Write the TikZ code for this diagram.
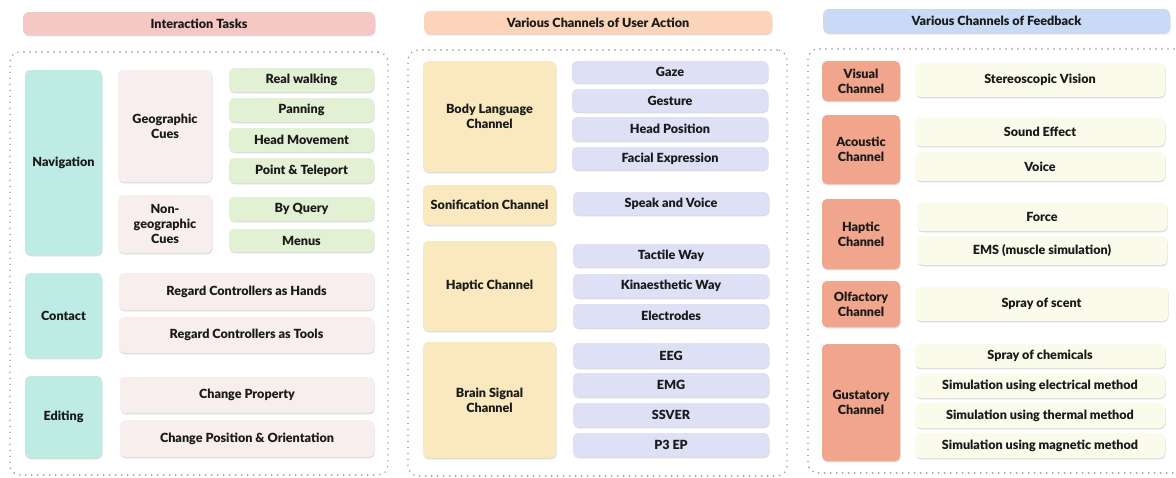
\documentclass[tikz,border=0pt]{standalone}
\usepackage{fontspec}
\setmainfont{Lato}[BoldFont={Lato Black}]
\usetikzlibrary{shadows}
\definecolor{hdrpink}{HTML}{F5C8C4}
\definecolor{hdrpeach}{HTML}{FCD4B9}
\definecolor{hdrblue}{HTML}{C8DAF5}
\definecolor{teal}{HTML}{BEEBE4}
\definecolor{lpink}{HTML}{F8EEEE}
\definecolor{lgreen}{HTML}{E2F0D4}
\definecolor{lyellow}{HTML}{FAE8BE}
\definecolor{lav}{HTML}{DEE0F6}
\definecolor{salmon}{HTML}{F0A58C}
\definecolor{cream}{HTML}{FAFBEB}
\definecolor{txt}{HTML}{1A1A1A}
\tikzset{
  base/.style={rounded corners=5pt, inner sep=0pt, align=center,
    font=\bfseries\fontsize{12.6}{15}\selectfont, text=txt,
    drop shadow={shadow xshift=0.5pt, shadow yshift=-1.3pt, opacity=0.3, fill=black!45}},
  hdr/.style={base, rounded corners=6pt},
  container/.style={draw=black!45, line width=1.6pt, dash pattern=on 0pt off 6pt,
    line cap=round, rounded corners=10pt, inner sep=0pt},
}
\newcommand{\bx}[7]{\node[#2, minimum width={(#5-#3)*1pt}, minimum height={(#6-#4)*1pt}]
  (#1) at ({(#3+#5)/2},{(#4+#6)/2}) {#7};}
\begin{document}
\begin{tikzpicture}[x=1pt,y=-1pt]
\useasboundingbox (0,0) rectangle (1176,477);
\fill[white] (0,0) rectangle (1176,477);
% headers
\bx{h1}{hdr,fill=hdrpink}{23}{12}{375}{35}{Interaction Tasks}
\bx{h2}{hdr,fill=hdrpeach}{424}{11}{772}{34}{Various Channels of User Action}
\bx{h3}{hdr,fill=hdrblue}{823}{9}{1170}{33}{Various Channels of Feedback}
% containers
\bx{c1}{container}{10}{52}{388}{475}{}
\bx{c2}{container}{408}{50}{787}{476}{}
\bx{c3}{container}{808}{49}{1190}{473}{}
% left column
\bx{nav}{base,fill=teal}{25}{70}{102}{255}{Navigation}
\bx{geo}{base,fill=lpink}{118}{70}{212}{182}{Geographic\\Cues}
\bx{ngeo}{base,fill=lpink}{118}{195}{212}{253}{Non-\\geographic\\Cues}
\bx{rw}{base,fill=lgreen}{229}{68}{374}{92}{Real walking}
\bx{pan}{base,fill=lgreen}{229}{98}{374}{122}{Panning}
\bx{hm}{base,fill=lgreen}{229}{128}{374}{152}{Head Movement}
\bx{pt}{base,fill=lgreen}{229}{158}{374}{183}{Point \& Teleport}
\bx{bq}{base,fill=lgreen}{229}{197}{374}{221}{By Query}
\bx{men}{base,fill=lgreen}{229}{229}{374}{252}{Menus}
\bx{con}{base,fill=teal}{25}{273}{102}{358}{Contact}
\bx{rch}{base,fill=lpink}{119}{273}{374}{310}{Regard Controllers as Hands}
\bx{rct}{base,fill=lpink}{119}{317}{374}{353}{Regard Controllers as Tools}
\bx{edi}{base,fill=teal}{25}{376}{102}{458}{Editing}
\bx{cp}{base,fill=lpink}{120}{377}{374}{413}{Change Property}
\bx{cpo}{base,fill=lpink}{120}{420}{374}{457}{Change Position \& Orientation}
% middle column
\bx{body}{base,fill=lyellow}{423}{61}{556}{172}{Body Language\\Channel}
\bx{gaze}{base,fill=lav}{572}{61}{768}{83}{Gaze}
\bx{gest}{base,fill=lav}{572}{89}{768}{112}{Gesture}
\bx{hpos}{base,fill=lav}{572}{117}{768}{141}{Head Position}
\bx{fac}{base,fill=lav}{572}{147}{768}{170}{Facial Expression}
\bx{son}{base,fill=lyellow}{423}{185}{556}{225}{Sonification Channel}
\bx{spk}{base,fill=lav}{573}{192}{769}{215}{Speak and Voice}
\bx{hap}{base,fill=lyellow}{423}{241}{556}{331}{Haptic Channel}
\bx{tac}{base,fill=lav}{573}{244}{769}{267}{Tactile Way}
\bx{kin}{base,fill=lav}{573}{274}{769}{298}{Kinaesthetic Way}
\bx{ele}{base,fill=lav}{573}{304}{769}{328}{Electrodes}
\bx{brain}{base,fill=lyellow}{423}{342}{556}{458}{Brain Signal\\Channel}
\bx{eeg}{base,fill=lav}{573}{343}{769}{368}{EEG}
\bx{emg}{base,fill=lav}{573}{373}{769}{397}{EMG}
\bx{ssv}{base,fill=lav}{573}{403}{769}{427}{SSVER}
\bx{p3}{base,fill=lav}{573}{433}{769}{457}{P3 EP}
% right column
\bx{vis}{base,fill=salmon}{822}{61}{900}{101}{Visual\\Channel}
\bx{ster}{base,fill=cream}{915}{63}{1165}{97}{Stereoscopic Vision}
\bx{aco}{base,fill=salmon}{822}{115}{900}{184}{Acoustic\\Channel}
\bx{snd}{base,fill=cream}{915}{117}{1165}{146}{Sound Effect}
\bx{voi}{base,fill=cream}{915}{152}{1165}{181}{Voice}
\bx{fhap}{base,fill=salmon}{822}{199}{900}{269}{Haptic\\Channel}
\bx{for}{base,fill=cream}{917}{202}{1167}{231}{Force}
\bx{ems}{base,fill=cream}{917}{236}{1167}{265}{EMS (muscle simulation)}
\bx{olf}{base,fill=salmon}{822}{281}{900}{327}{Olfactory\\Channel}
\bx{scent}{base,fill=cream}{915}{287}{1168}{321}{Spray of scent}
\bx{gus}{base,fill=salmon}{822}{344}{900}{461}{Gustatory\\Channel}
\bx{chem}{base,fill=cream}{915}{344}{1165}{368}{Spray of chemicals}
\bx{elec}{base,fill=cream}{915}{374}{1165}{398}{Simulation using electrical method}
\bx{ther}{base,fill=cream}{915}{403}{1165}{428}{Simulation using thermal method}
\bx{mag}{base,fill=cream}{915}{433}{1165}{458}{Simulation using magnetic method}
\end{tikzpicture}
\end{document}
